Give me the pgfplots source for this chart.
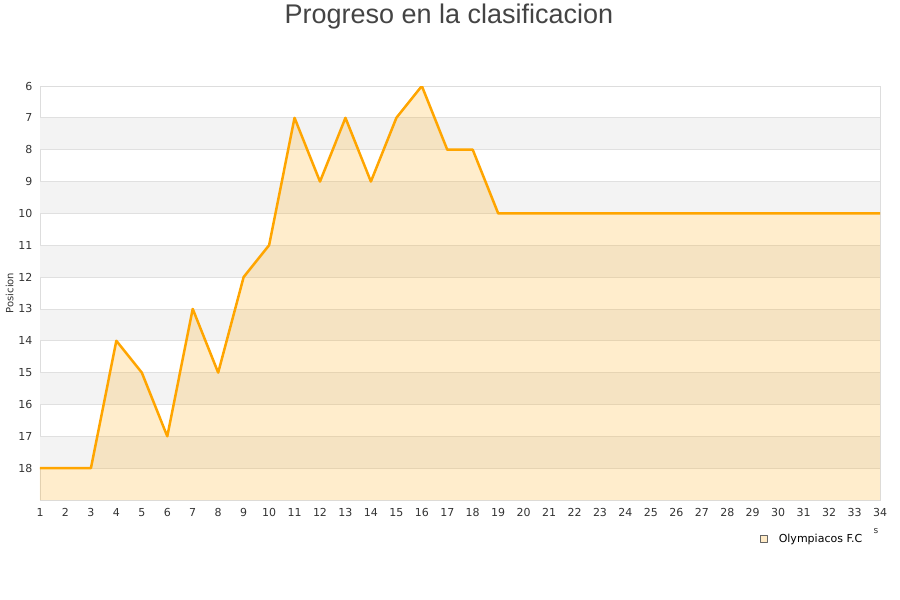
\documentclass[border=0pt]{standalone}
\usepackage{pgfplots}
\pgfplotsset{compat=1.18}
\usepackage{fontspec}
\setmainfont{DejaVu Sans}
\newfontfamily\titlefont{Liberation Sans}
\definecolor{bandgray}{HTML}{F3F3F3}
\definecolor{gridc}{HTML}{E0E0E0}
\definecolor{borderc}{HTML}{DDDDDD}
\definecolor{tickc}{HTML}{333333}
\definecolor{titlec}{HTML}{444444}
\definecolor{lineor}{HTML}{FFA500}

\begin{document}
\begin{tikzpicture}
\path (0pt,0pt) rectangle (900pt,600pt);
\node[font=\titlefont\fontsize{27}{31}\selectfont, text=titlec] at (449pt,583pt) {Progreso en la clasificacion};
\begin{axis}[
  at={(40pt,100pt)}, anchor=south west,
  scale only axis, width=840pt, height=414pt,
  xmin=1, xmax=34, ymin=6, ymax=19,
  y dir=reverse,
  xtick={1,...,34}, ytick={6,...,18},
  major tick length=0pt,
  axis line style={draw=borderc},
  tick label style={font=\fontsize{11}{13}\selectfont, text=tickc},
  /pgf/number format/assume math mode=true,
  xticklabel style={yshift=-5pt},
  yticklabel style={xshift=-4pt},
  ylabel={Posicion},
  ylabel style={font=\fontsize{10}{12}\selectfont, text=tickc, xshift=0pt, yshift=-2pt},
  legend style={at={(rel axis cs:0.8536,-0.094)}, anchor=west, draw=none, fill=none,
    font=\fontsize{11}{13}\selectfont, legend cell align=left},
]
\fill[bandgray] (axis cs:1,7) rectangle (axis cs:34,8);
\fill[bandgray] (axis cs:1,9) rectangle (axis cs:34,10);
\fill[bandgray] (axis cs:1,11) rectangle (axis cs:34,12);
\fill[bandgray] (axis cs:1,13) rectangle (axis cs:34,14);
\fill[bandgray] (axis cs:1,15) rectangle (axis cs:34,16);
\fill[bandgray] (axis cs:1,17) rectangle (axis cs:34,18);
\pgfplotsinvokeforeach{7,...,18}{\draw[gridc, line width=0.8pt] (axis cs:1,#1) -- (axis cs:34,#1);}
\addplot[draw=none, fill=lineor, fill opacity=0.2, forget plot] coordinates {
 (1,19) (1,18) (2,18) (3,18) (4,14) (5,15) (6,17) (7,13) (8,15) (9,12) (10,11)
 (11,7) (12,9) (13,7) (14,9) (15,7) (16,6) (17,8) (18,8) (19,10) (20,10)
 (21,10) (22,10) (23,10) (24,10) (25,10) (26,10) (27,10) (28,10) (29,10) (30,10)
 (31,10) (32,10) (33,10) (34,10) (34,19)
};
\addplot[draw=lineor, line width=2.5pt, line join=round,
  legend image code/.code={\draw[fill=lineor!22, draw=black!60, line width=0.6pt] (2pt,-3.5pt) rectangle (9pt,3.5pt); \path (17pt,0pt);}]
  coordinates {
 (1,18) (2,18) (3,18) (4,14) (5,15) (6,17) (7,13) (8,15) (9,12) (10,11)
 (11,7) (12,9) (13,7) (14,9) (15,7) (16,6) (17,8) (18,8) (19,10) (20,10)
 (21,10) (22,10) (23,10) (24,10) (25,10) (26,10) (27,10) (28,10) (29,10) (30,10)
 (31,10) (32,10) (33,10) (34,10)
};
\legend{Olympiacos F.C}
\end{axis}
\node[font=\fontsize{9}{11}\selectfont, text=tickc] at (876pt,69pt) {s};
\end{tikzpicture}
\end{document}
